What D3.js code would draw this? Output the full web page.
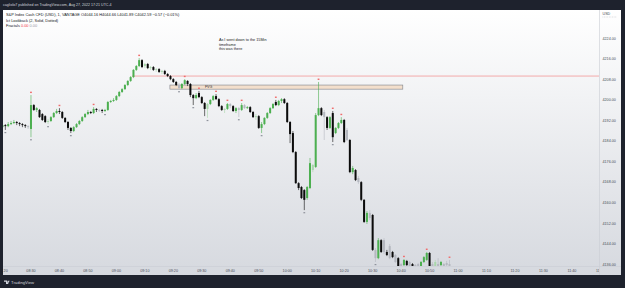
<!DOCTYPE html>
<html>
<head>
<meta charset="utf-8">
<script src="https://cdn.jsdelivr.net/npm/d3@7"></script>
<style>
  html, body { margin: 0; padding: 0; background: #1e222d; }
  svg { display: block; font-family: "Liberation Sans", Arial, sans-serif; }
</style>
</head>
<body>
<div class="container"></div>
<script>
const wd = 625
const ht = 288

// candles, one per minute from 08:20 -> [open, high, low, close]
const candles = [
  [4189.4,4191.0,4188.7,4190.2],[4190.2,4190.6,4188.3,4189.8],[4189.8,4191.4,4189.4,4190.6],[4190.6,4191.8,4190.2,4191.0],
  [4191.0,4192.2,4190.6,4191.4],[4191.4,4191.8,4190.2,4191.0],[4191.0,4191.4,4189.8,4190.6],[4190.6,4191.0,4189.4,4190.2],
  [4190.2,4190.6,4189.1,4189.8],[4189.8,4190.2,4188.7,4189.4],[4188.7,4201.9,4185.5,4198.0],[4198.0,4198.4,4195.7,4196.1],
  [4196.1,4197.2,4195.3,4196.8],[4196.1,4196.5,4193.0,4193.3],[4194.5,4194.9,4191.8,4192.2],[4193.7,4194.1,4191.0,4191.4],
  [4191.4,4192.6,4190.6,4191.8],[4191.8,4193.7,4191.4,4193.3],[4193.3,4195.3,4193.0,4194.9],[4194.9,4196.5,4194.5,4195.7],
  [4195.7,4196.8,4194.5,4195.3],[4195.3,4195.7,4192.6,4193.0],[4193.0,4193.3,4191.0,4191.4],[4191.4,4191.8,4188.3,4189.1],
  [4189.1,4189.4,4187.1,4187.9],[4187.9,4189.8,4187.5,4189.4],[4189.4,4191.0,4189.1,4190.6],[4190.6,4192.2,4190.2,4191.8],
  [4191.8,4193.7,4191.4,4193.3],[4193.3,4194.9,4193.0,4194.5],[4194.5,4196.1,4194.1,4195.3],[4195.3,4195.7,4194.5,4194.9],
  [4194.9,4197.2,4194.5,4196.5],[4196.5,4196.8,4195.3,4196.1],[4196.1,4196.5,4195.3,4195.9],[4196.1,4196.5,4194.9,4195.7],
  [4195.7,4196.5,4195.3,4196.1],[4196.1,4199.6,4195.7,4199.2],[4199.2,4200.0,4198.8,4199.6],[4199.6,4200.7,4199.2,4200.0],
  [4200.0,4201.9,4199.6,4201.5],[4201.5,4203.5,4201.1,4203.1],[4203.1,4204.6,4202.7,4204.2],[4204.2,4206.2,4203.9,4205.8],
  [4205.8,4207.7,4205.4,4207.4],[4207.4,4209.3,4207.0,4208.9],[4208.9,4212.0,4208.5,4211.7],[4211.7,4213.6,4211.3,4213.2],
  [4213.2,4216.3,4212.8,4215.5],[4215.5,4215.9,4212.4,4212.8],[4213.2,4214.4,4212.4,4214.0],[4214.0,4214.4,4212.0,4212.4],
  [4212.4,4213.2,4211.7,4212.8],[4212.8,4213.2,4211.3,4211.7],[4211.7,4212.4,4210.9,4212.0],[4212.0,4212.4,4210.5,4210.9],
  [4210.9,4211.7,4210.1,4211.3],[4211.3,4211.7,4209.7,4210.1],[4210.1,4210.5,4208.9,4209.3],[4209.3,4209.7,4207.7,4208.1],
  [4208.1,4208.5,4206.6,4207.0],[4207.0,4207.4,4205.4,4205.8],[4205.8,4206.6,4204.2,4204.6],[4204.6,4206.6,4204.2,4206.2],
  [4206.2,4208.1,4205.8,4207.7],[4207.4,4207.7,4205.4,4206.2],[4206.2,4206.6,4201.1,4201.9],[4201.9,4202.3,4198.0,4200.7],
  [4200.7,4202.7,4200.3,4201.9],[4202.7,4203.5,4200.7,4201.1],[4201.1,4201.5,4198.4,4198.8],[4198.8,4199.2,4193.7,4196.5],
  [4196.5,4198.8,4193.0,4198.4],[4198.4,4200.3,4198.0,4200.0],[4200.0,4201.9,4199.6,4201.5],[4201.5,4202.3,4200.0,4200.3],
  [4200.3,4200.7,4197.2,4197.6],[4197.6,4198.0,4195.7,4196.1],[4196.1,4196.8,4194.9,4196.5],[4196.5,4198.8,4196.1,4198.4],
  [4198.4,4198.8,4196.8,4197.6],[4197.6,4198.0,4195.3,4195.7],[4195.7,4197.2,4194.9,4196.8],[4196.8,4197.2,4193.3,4196.1],
  [4196.1,4198.8,4195.7,4198.0],[4198.0,4198.4,4196.5,4196.8],[4196.8,4197.6,4196.5,4197.2],[4197.2,4197.6,4194.9,4195.3],
  [4195.3,4195.7,4193.0,4193.3],[4193.3,4194.5,4192.2,4193.7],[4193.7,4194.1,4188.7,4189.1],[4189.1,4191.4,4187.1,4190.6],
  [4190.6,4193.3,4190.2,4193.0],[4193.0,4195.3,4192.6,4194.9],[4194.9,4197.2,4194.5,4196.8],[4196.8,4198.8,4196.5,4198.4],
  [4199.2,4200.0,4197.6,4198.0],[4198.0,4200.0,4197.6,4199.6],[4199.6,4200.7,4198.8,4200.3],[4200.3,4200.7,4198.4,4198.8],
  [4198.8,4199.2,4191.0,4191.4],[4191.4,4191.8,4183.2,4186.7],[4187.1,4187.9,4179.3,4179.7],[4179.7,4180.1,4167.3,4167.6],
  [4167.6,4168.0,4164.9,4165.7],[4166.1,4166.5,4161.4,4161.8],[4164.9,4165.3,4157.1,4161.1],[4161.8,4166.5,4161.1,4166.1],
  [4165.7,4177.4,4165.3,4175.4],[4172.7,4175.0,4171.9,4174.7],[4173.9,4194.9,4173.5,4194.1],[4194.1,4207.0,4193.7,4196.8],
  [4196.8,4197.2,4193.7,4194.1],[4195.3,4196.1,4184.4,4193.3],[4193.3,4193.7,4188.3,4189.1],[4189.1,4193.7,4188.7,4193.3],
  [4194.9,4195.7,4183.6,4185.5],[4187.1,4189.4,4186.7,4189.1],[4189.1,4191.4,4188.7,4191.0],[4191.0,4193.3,4190.6,4192.2],
  [4192.2,4192.6,4183.2,4183.6],[4188.3,4189.1,4184.0,4184.4],[4184.4,4184.8,4171.5,4171.9],[4171.9,4174.3,4171.1,4173.5],
  [4172.7,4173.1,4168.4,4168.8],[4169.6,4170.4,4167.3,4168.0],[4168.0,4168.4,4160.6,4161.1],[4161.1,4161.4,4152.1,4152.5],
  [4152.5,4156.7,4151.7,4156.0],[4156.0,4157.1,4153.2,4154.0],[4155.2,4155.6,4141.2,4141.6],[4141.6,4142.3,4136.9,4138.4],
  [4138.4,4146.2,4138.0,4145.4],[4145.4,4145.8,4140.4,4140.8],[4145.4,4146.2,4140.0,4140.8],[4140.8,4141.6,4139.2,4139.6],
  [4143.1,4143.9,4138.0,4138.4],[4140.8,4141.2,4138.4,4138.8],[4139.6,4140.0,4136.5,4136.9],[4138.4,4138.8,4134.5,4134.9],
  [4136.1,4136.5,4134.9,4135.3],[4135.7,4138.0,4135.3,4137.7],[4137.3,4137.7,4135.3,4135.7],[4136.9,4137.3,4134.9,4135.3],
  [4136.1,4136.5,4134.9,4135.3],[4135.7,4136.1,4134.9,4135.3],[4136.1,4136.5,4134.9,4135.3],[4134.9,4137.3,4134.5,4136.9],
  [4136.9,4139.2,4136.5,4138.8],[4137.7,4140.8,4137.3,4140.4],[4140.4,4140.8,4134.5,4134.9],[4136.1,4136.9,4134.9,4135.3],
  [4135.3,4137.7,4134.9,4136.9],[4136.1,4138.4,4134.9,4135.3],[4135.7,4137.3,4135.3,4136.9],[4136.1,4136.5,4134.9,4135.3],
  [4136.5,4137.3,4135.3,4135.7],[4136.1,4137.7,4134.9,4135.3]
]

// candles drawn washed out on the reference
const fadedBars = [9,16,34,50,52,54,56,62,72,78,80,83,85,89,109,113,121,125,129,131,134,136,138,140,143,145,146,151,152,153,155,156,157]

// fractal marks
const fractalUp = [10,20,32,48,64,69,75,79,84,96,111,116,119,141,149,157]
const fractalDown = [1,10,16,24,36,62,67,72,83,91,106,116,131]

const priceTicks = [4224,4216,4208,4200,4192,4184,4176,4168,4160,4152,4144,4136]
const timeTicks = ["08:20","08:30","08:40","08:50","09:00","09:10","09:20","09:30","09:40","09:50","10:00",
                   "10:10","10:20","10:30","10:40","10:50","11:00","11:10","11:20","11:30","11:40","11:50"]

// lookback line + fair value gap
const lookbackLevel = 4209.3
const lookbackStart = 45.5
const fvg = {top: 4205.8, bottom: 4204.2, from: 58.8, to: 140.6, label: "FVG"}

const noteLines = ["As I went down to the 15Min", "timeframe", "this was there"]
const notePos = {t: 76, p: 4222.8}

const headerText = "cagliolo7 published on TradingView.com, Aug 27, 2022 17:21 UTC-4"
const legendTitle = "S&P Index Cash CFD (USD), 1, VANTAGE"
const legendOhlc = "O4044.16  H4044.66  L4041.89  C4042.59  \u22120.57 (\u22120.01%)"
const legendInd = "Ict Lookback (2, Solid, Dotted)"
const fractalVals = ["0.00", "0.00"]

const plotL = 3, plotR = 599, plotT = 10, plotB = 266, axisB = 275, panelR = 621

const toMin = (s) => { let a = s.split(":"); return (+a[0])*60 + (+a[1]) - 500 }

const x = d3.scaleLinear().domain([0, 210]).range([2.5, 600.4])
const y = d3.scaleLinear().domain([4136, 4224]).range([264.3, 38.3])

const svg = d3.select(".container").append("svg")
  .attr("width", wd)
  .attr("height", ht)

const defs = svg.append("defs")
const grad = defs.append("linearGradient").attr("id", "bg").attr("x1", 0).attr("x2", 0).attr("y1", 0).attr("y2", 1)
grad.append("stop").attr("offset", "0%").attr("stop-color", "#ffffff")
grad.append("stop").attr("offset", "100%").attr("stop-color", "#d6d9df")

defs.append("clipPath").attr("id", "plotClip").append("rect")
  .attr("x", plotL).attr("y", plotT).attr("width", plotR - plotL).attr("height", plotB - plotT)
defs.append("clipPath").attr("id", "timeClip").append("rect")
  .attr("x", plotL).attr("y", plotB).attr("width", plotR - plotL).attr("height", axisB - plotB)

svg.append("rect").attr("width", wd).attr("height", ht).attr("fill", "#1e222d")
svg.append("rect").attr("x", plotL).attr("y", plotT).attr("width", panelR - plotL).attr("height", axisB - plotT)
  .attr("fill", "url(#bg)")

// axis borders
svg.append("line").attr("x1", plotR + 0.5).attr("x2", plotR + 0.5).attr("y1", plotT).attr("y2", axisB)
  .attr("stroke", "#c9ccd3").attr("stroke-width", 0.6)
svg.append("line").attr("x1", plotL).attr("x2", panelR).attr("y1", plotB + 0.5).attr("y2", plotB + 0.5)
  .attr("stroke", "#c9ccd3").attr("stroke-width", 0.6)

const plot = svg.append("g").attr("clip-path", "url(#plotClip)")

// lookback level
plot.append("line")
  .attr("x1", x(lookbackStart)).attr("x2", plotR)
  .attr("y1", y(lookbackLevel)).attr("y2", y(lookbackLevel))
  .attr("stroke", "#f28b8b").attr("stroke-width", 0.7)

// FVG box
plot.append("rect")
  .attr("x", x(fvg.from)).attr("y", y(fvg.top))
  .attr("width", x(fvg.to) - x(fvg.from)).attr("height", y(fvg.bottom) - y(fvg.top))
  .attr("fill", "#f3dfcc").attr("stroke", "#7d8089").attr("stroke-width", 0.6)
plot.append("text")
  .attr("x", x(fvg.from) + 35).attr("y", (y(fvg.top) + y(fvg.bottom)) / 2 + 1.2)
  .attr("font-size", 3.6).attr("fill", "#333")
  .text(fvg.label)

const isFaded = (i) => fadedBars.indexOf(i) >= 0
const barColor = (d, i) => {
  let up = d[3] >= d[0]
  if (isFaded(i)) return up ? "#a9d7ab" : "#b4b7bf"
  return up ? "#4caf50" : "#0b0b0b"
}

const bars = plot.selectAll("g.bar")
  .data(candles)
  .enter().append("g")
  .attr("class", "bar")

bars.append("line")
  .attr("x1", (d, i) => x(i)).attr("x2", (d, i) => x(i))
  .attr("y1", (d) => y(d[1])).attr("y2", (d) => y(d[2]))
  .attr("stroke", (d, i) => barColor(d, i))
  .attr("stroke-width", 0.6)

bars.append("rect")
  .attr("x", (d, i) => x(i) - 1)
  .attr("width", 2)
  .attr("y", (d) => y(d3.max([d[0], d[3]])))
  .attr("height", (d) => d3.max([Math.abs(y(d[0]) - y(d[3])), 0.6]))
  .attr("fill", (d, i) => barColor(d, i))

// fractals
plot.selectAll("rect.fup")
  .data(fractalUp)
  .enter().append("rect")
  .attr("class", "fup")
  .attr("x", (d) => x(d) - 0.9).attr("y", (d) => y(candles[d][1]) - 3.4)
  .attr("width", 1.8).attr("height", 1.4)
  .attr("fill", "#f06b6b")

plot.selectAll("rect.fdn")
  .data(fractalDown)
  .enter().append("rect")
  .attr("class", "fdn")
  .attr("x", (d) => x(d) - 0.9).attr("y", (d) => y(candles[d][2]) + 2)
  .attr("width", 1.8).attr("height", 1.2)
  .attr("fill", "#8f939c")

// note text
svg.append("g").selectAll("text")
  .data(noteLines)
  .enter().append("text")
  .attr("x", x(notePos.t))
  .attr("y", (d, i) => y(notePos.p) + i * 4.4)
  .attr("font-size", 3.8).attr("fill", "#222")
  .text((d) => d)

// price axis
svg.append("g").selectAll("text")
  .data(priceTicks)
  .enter().append("text")
  .attr("x", 602.5).attr("y", (d) => y(d) + 1.3)
  .attr("font-size", 3.7).attr("fill", "#4a4e57")
  .text((d) => d.toFixed(2))

svg.append("text").attr("x", 602.5).attr("y", 14.5)
  .attr("font-size", 3.7).attr("fill", "#4a4e57").text("USD")
svg.append("line").attr("x1", 602.5).attr("x2", 617).attr("y1", 17).attr("y2", 17)
  .attr("stroke", "#9aa0aa").attr("stroke-width", 0.4).attr("stroke-dasharray", "0.8,0.8")

// time axis - the first label only shows its minutes, the chart cuts it at the left edge
svg.append("g").attr("clip-path", "url(#timeClip)").selectAll("text")
  .data(timeTicks)
  .enter().append("text")
  .attr("x", (d, i) => i == 0 ? plotL + 0.6 : x(toMin(d)))
  .attr("y", 271.8)
  .attr("text-anchor", (d, i) => i == 0 ? "start" : "middle")
  .attr("font-size", 3.7).attr("fill", "#4a4e57")
  .text((d, i) => i == 0 ? d.split(":")[1] : d)

// header + legend
svg.append("text").attr("x", 3).attr("y", 6.3)
  .attr("font-size", 3.6).attr("fill", "#d1d4dc").text(headerText)

const legend = svg.append("g").attr("font-size", 3.9).attr("fill", "#131722")
legend.append("text").attr("x", 6).attr("y", 16.2).text(legendTitle + "  " + legendOhlc)
legend.append("text").attr("x", 6).attr("y", 21.6).text(legendInd)
let fr = legend.append("text").attr("x", 6).attr("y", 27)
fr.append("tspan").text("Fractals  ")
fr.append("tspan").attr("fill", "#f23645").text(fractalVals[0] + "  ")
fr.append("tspan").attr("fill", "#9598a1").text(fractalVals[1])

// logo
const logo = svg.append("g").attr("fill", "#d1d4dc")
logo.append("path").attr("d", "M4,280.5 h3.2 v3.6 h-1.2 v-2.4 h-2 z M7.8,281 h1.3 l-1,3.1 h-1.2 z")
logo.append("circle").attr("cx", 8.9).attr("cy", 281.1).attr("r", 0.6)
logo.append("text").attr("x", 11).attr("y", 284).attr("font-size", 4.2).text("TradingView")
</script>
</body>
</html>
